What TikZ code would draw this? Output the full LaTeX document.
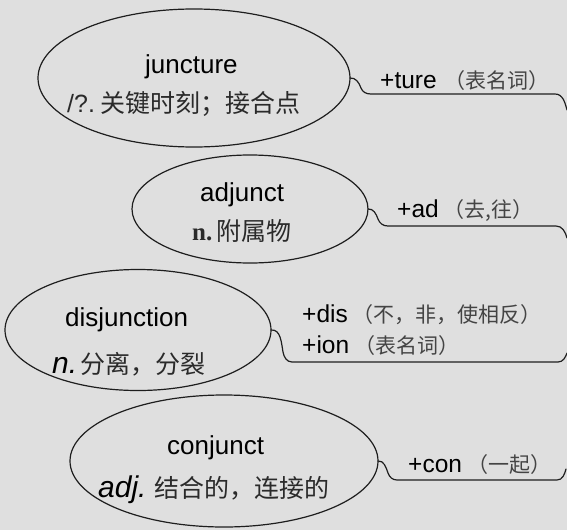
\documentclass[tikz,border=0pt]{standalone}
\usepackage{fontspec}
\setmainfont{Liberation Sans}
\newfontfamily\cjk{Noto Sans CJK SC}
\newfontfamily\serifn{Liberation Serif}
\usetikzlibrary{shapes.geometric}
\definecolor{bgc}{HTML}{DFDFDF}
\definecolor{linec}{HTML}{1E1E1E}
\definecolor{textc}{HTML}{2A2A2A}
\definecolor{parenc}{HTML}{444444}
\newcommand\parentext[1]{{\cjk\fontsize{21}{24}\selectfont\color{parenc}#1}}
\newcommand\cjkdef[1]{{\cjk #1}}
\tikzset{
  bubble/.style={ellipse, draw=linec, line width=1.2pt, inner sep=0pt, outer sep=0pt},
  word/.style={anchor=base west, inner sep=0pt, font=\fontsize{26}{30}\selectfont, text=black},
  defn/.style={anchor=base west, inner sep=0pt, font=\fontsize{25}{30}\selectfont, text=textc},
  affix/.style={anchor=base west, inner sep=0pt, font=\fontsize{24.5}{30}\selectfont, text=black},
  link/.style={draw=linec, line width=1.2pt, line join=round, line cap=round}
}
\begin{document}
\begin{tikzpicture}[x=1pt, y=-1pt]
  \fill[bgc] (0,0) rectangle (567,530);
  \useasboundingbox (0,0) rectangle (567,530);

  % ellipses
  \node[bubble, minimum width=312pt, minimum height=138pt] (J) at (194,78) {};
  \node[bubble, minimum width=236pt, minimum height=108pt] (A) at (250,209) {};
  \node[bubble, minimum width=266pt, minimum height=121pt] (D) at (138,330) {};
  \node[bubble, minimum width=308pt, minimum height=132pt] (C) at (224,461) {};

  % free ends of the connectors
  \coordinate (Jend) at (567,110);
  \coordinate (Aend) at (567,238);
  \coordinate (Dend) at (567,353);
  \coordinate (Cend) at (566,469);

  % connectors
  \draw[link] (J.east) to[out=5,in=110] (361,88) to[out=-70,in=180] (371,94)
    -- (555,94) to[out=0,in=105] (Jend);
  \draw[link] (A.east) to[out=5,in=110] (378,219) to[out=-70,in=180] (388,226)
    -- (556,226) to[out=0,in=105] (Aend);
  \draw[link] (D.east) to[out=5,in=100] (283,352) to[out=-80,in=180] (292,362)
    -- (558,362) to[out=0,in=-110] (Dend);
  \draw[link] (C.east) to[out=5,in=110] (388,473) to[out=-70,in=180] (397,480)
    -- (557,480) to[out=0,in=-105] (Cend);

  % juncture
  \node[word] (jw) at (145,73) {juncture};
  \node[defn] (jd) at (67,112) {/?.\hspace{6pt}\cjkdef{关键时刻；接合点}};
  \node[affix] (ja) at (380,88) {+ture\hspace{8pt}\parentext{（表名词）}};

  % adjunct
  \node[word] (aw) at (200,201) {adjunct};
  \node[defn] (ad) at (192,240) {{\serifn\bfseries\fontsize{25}{30}\selectfont n.}\hspace{4pt}\cjkdef{附属物}};
  \node[affix] (aa) at (397,217) {+ad\hspace{5pt}\parentext{（去,往）}};

  % disjunction
  \node[word] (dw) at (65,326) {disjunction};
  \node[defn] (dd) at (52,373) {{\itshape\fontsize{30}{32}\selectfont\color{black}n.}\hspace{3pt}\cjkdef{分离，分裂}};
  \node[affix] (da) at (302,322) {+dis\hspace{5pt}\parentext{（不，非，使相反）}};
  \node[affix] (db) at (302,353) {+ion\hspace{5pt}\parentext{（表名词）}};

  % conjunct
  \node[word] (cw) at (167,454) {conjunct};
  \node[defn] (cd) at (98,497) {{\itshape\fontsize{30}{32}\selectfont\color{black}adj.}\hspace{8pt}\cjkdef{结合的，连接的}};
  \node[affix] (ca) at (408,472) {+con\hspace{5pt}\parentext{（一起）}};
\end{tikzpicture}
\end{document}
